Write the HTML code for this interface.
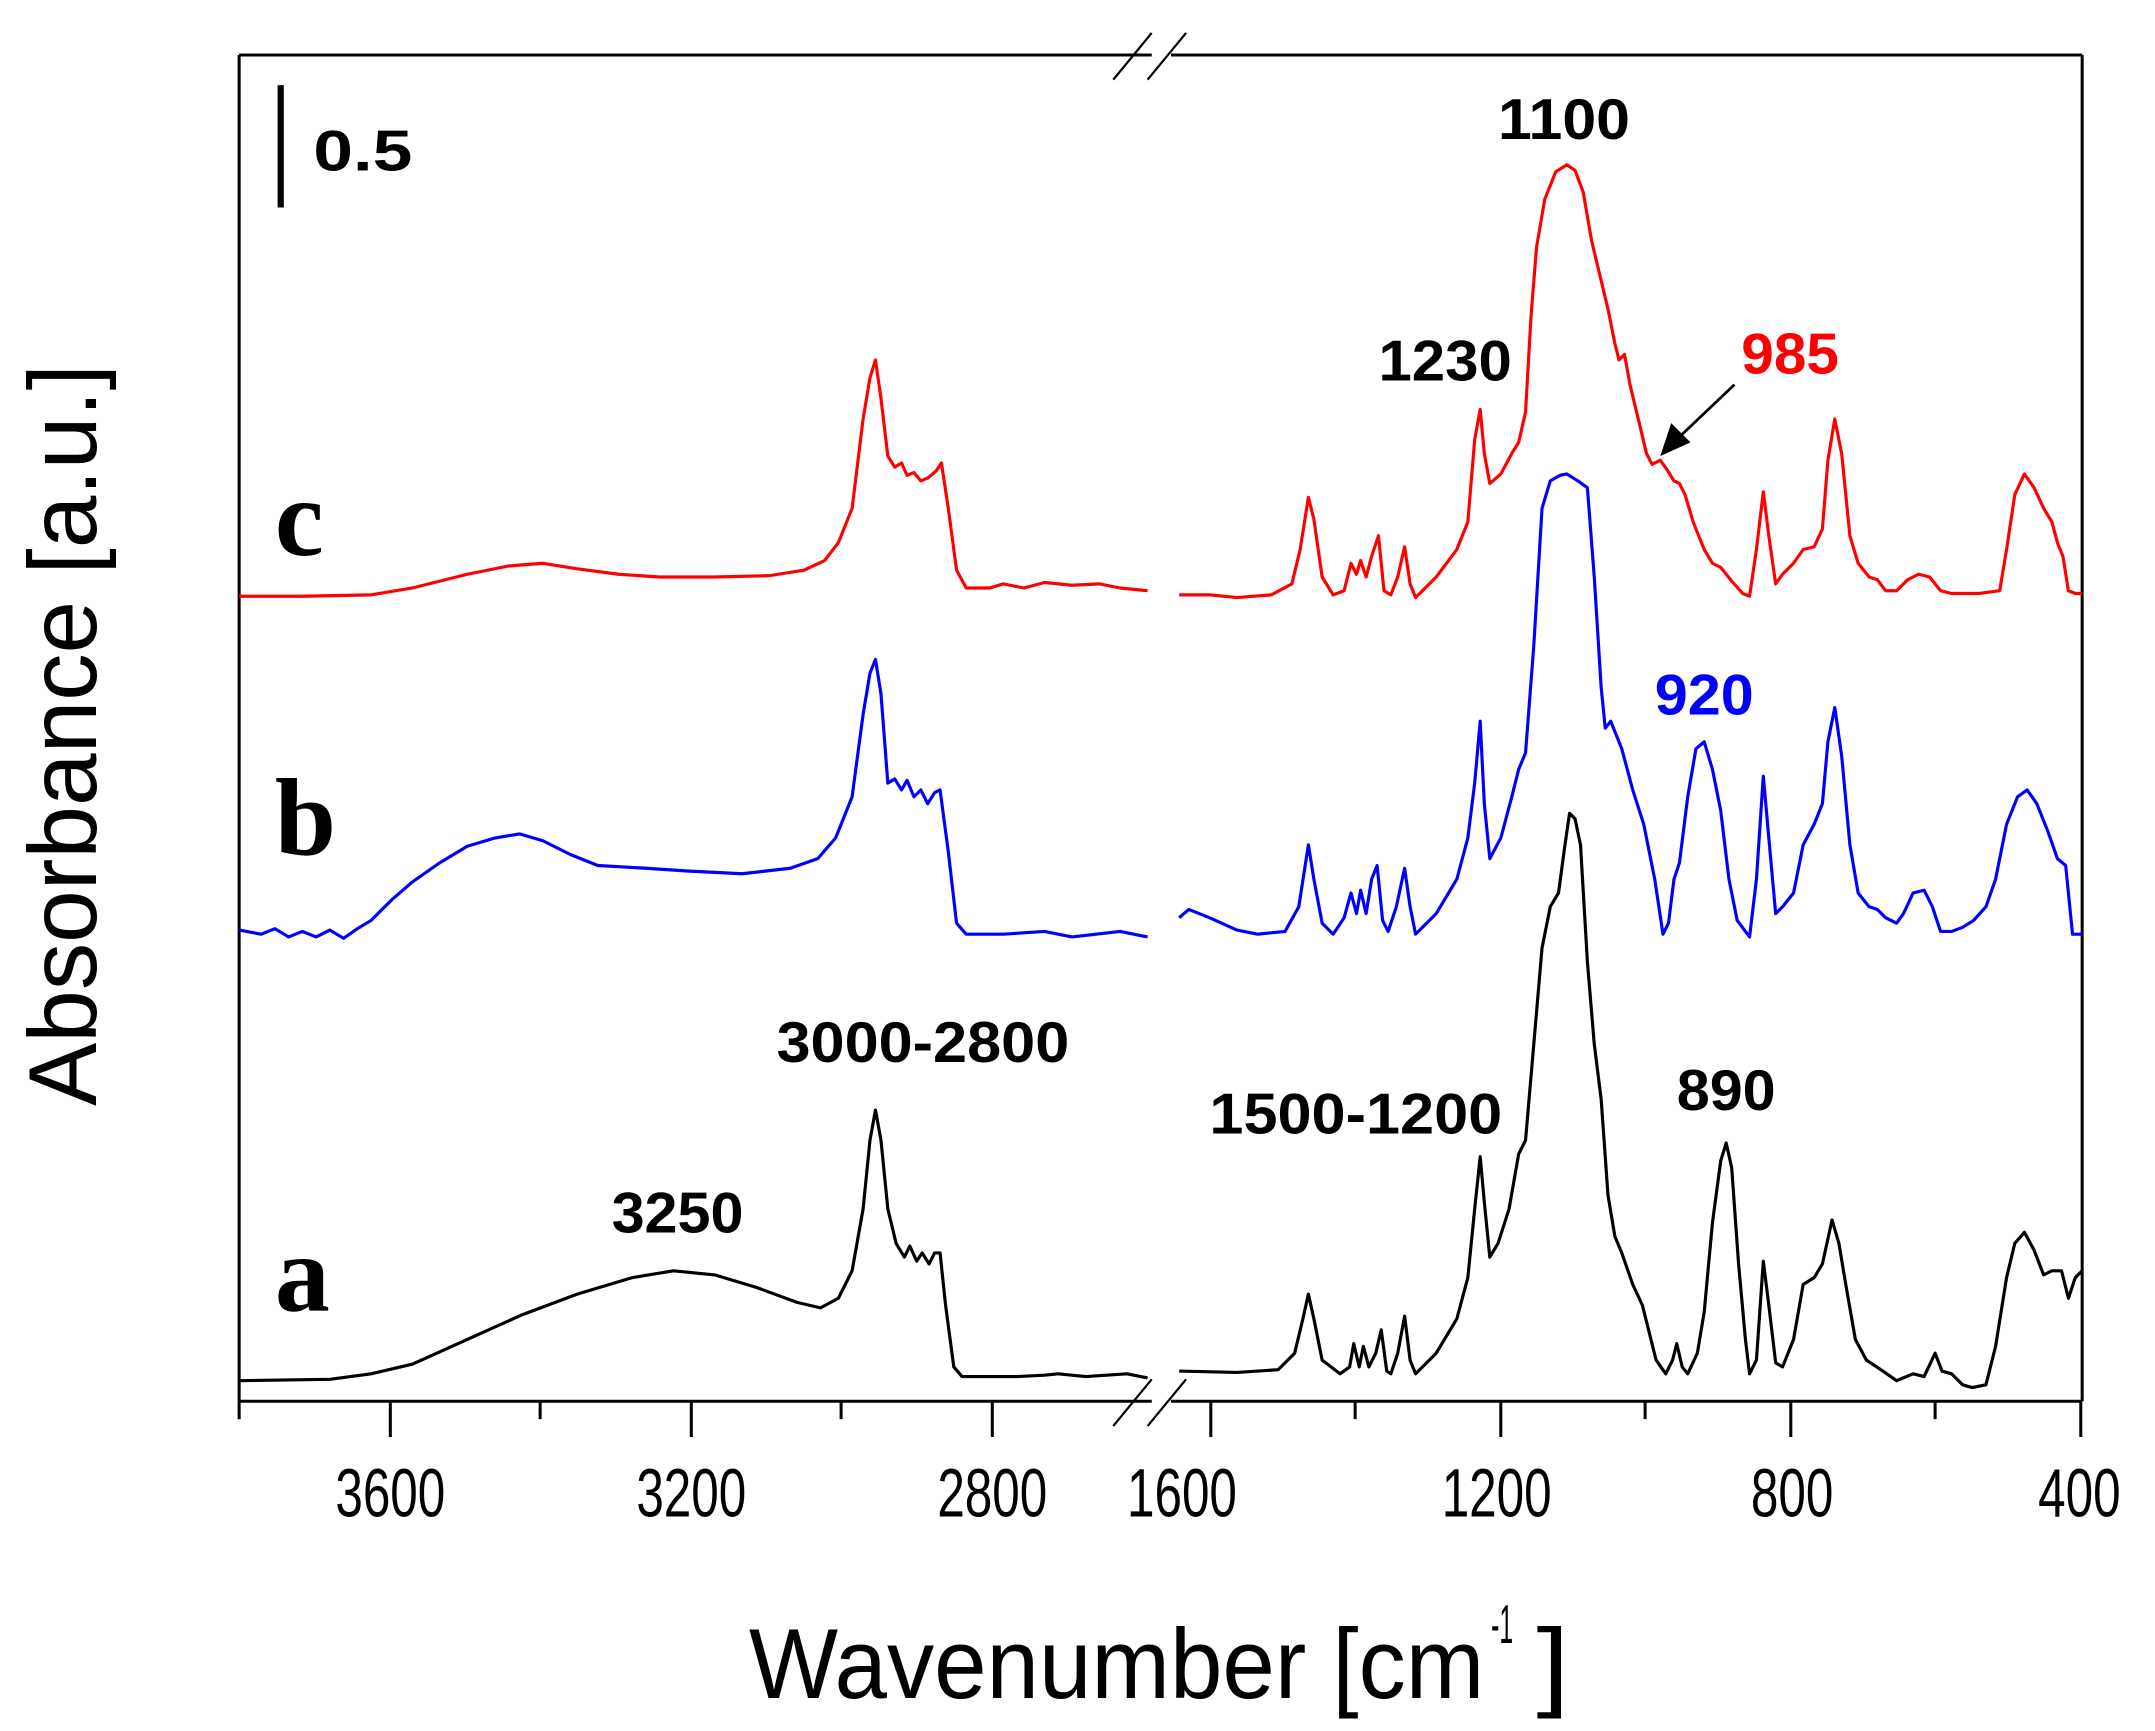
<!DOCTYPE html>
<html><head><meta charset="utf-8"><style>
html,body{margin:0;padding:0;background:#fff;}
svg{display:block;}
</style></head><body>
<svg width="2155" height="1731" viewBox="0 0 1568 1260" preserveAspectRatio="none" xmlns="http://www.w3.org/2000/svg" font-family="Liberation Sans, sans-serif">
<rect width="1568" height="1260" fill="#fff"/>
<g stroke="#000" stroke-width="2.2" fill="none">
<line x1="174" y1="40" x2="174" y2="1020"/>
<line x1="1515" y1="40" x2="1515" y2="1020"/>
<line x1="174" y1="40" x2="838" y2="40"/>
<line x1="852" y1="40" x2="1515" y2="40"/>
<line x1="174" y1="1020" x2="838" y2="1020"/>
<line x1="852" y1="1020" x2="1515" y2="1020"/>
<line x1="810" y1="58" x2="838" y2="24" stroke-width="1.6"/>
<line x1="835" y1="58" x2="863" y2="24" stroke-width="1.6"/>
<line x1="810" y1="1038" x2="838" y2="1004" stroke-width="1.6"/>
<line x1="835" y1="1038" x2="863" y2="1004" stroke-width="1.6"/>
<line x1="284" y1="1020" x2="284" y2="1046"/>
<line x1="503" y1="1020" x2="503" y2="1046"/>
<line x1="722" y1="1020" x2="722" y2="1046"/>
<line x1="393" y1="1020" x2="393" y2="1033"/>
<line x1="612" y1="1020" x2="612" y2="1033"/>
<line x1="174" y1="1020" x2="174" y2="1033"/>
<line x1="881" y1="1020" x2="881" y2="1046"/>
<line x1="1092" y1="1020" x2="1092" y2="1046"/>
<line x1="1303" y1="1020" x2="1303" y2="1046"/>
<line x1="1514" y1="1020" x2="1514" y2="1046"/>
<line x1="986" y1="1020" x2="986" y2="1033"/>
<line x1="1197" y1="1020" x2="1197" y2="1033"/>
<line x1="1408" y1="1020" x2="1408" y2="1033"/>
</g>
<g font-size="50" fill="#000" lengthAdjust="spacingAndGlyphs">
<text x="244" y="1104" textLength="80" lengthAdjust="spacingAndGlyphs">3600</text>
<text x="463" y="1104" textLength="80" lengthAdjust="spacingAndGlyphs">3200</text>
<text x="682" y="1104" textLength="80" lengthAdjust="spacingAndGlyphs">2800</text>
<text x="820" y="1104" textLength="80" lengthAdjust="spacingAndGlyphs">1600</text>
<text x="1049" y="1104" textLength="80" lengthAdjust="spacingAndGlyphs">1200</text>
<text x="1274" y="1104" textLength="60" lengthAdjust="spacingAndGlyphs">800</text>
<text x="1483" y="1104" textLength="60" lengthAdjust="spacingAndGlyphs">400</text>
</g>
<text x="545" y="1236" font-size="72" textLength="535" lengthAdjust="spacingAndGlyphs">Wavenumber [cm</text>
<text x="1085" y="1196" font-size="40" textLength="16" lengthAdjust="spacingAndGlyphs">-1</text>
<text x="1118" y="1236" font-size="72" textLength="24" lengthAdjust="spacingAndGlyphs">]</text>
<text transform="translate(70,805) rotate(-90)" font-size="70" textLength="540" lengthAdjust="spacingAndGlyphs">Absorbance [a.u.]</text>
<rect x="202" y="62" width="4.5" height="89" fill="#000"/>
<text x="228" y="124" font-size="42" font-weight="bold" textLength="72" lengthAdjust="spacingAndGlyphs">0.5</text>
<g font-family="Liberation Serif, serif" font-weight="bold" font-size="80">
<text x="200" y="404">c</text>
<text x="200" y="622">b</text>
<text x="200" y="954">a</text>
</g>
<g font-size="42" font-weight="bold" lengthAdjust="spacingAndGlyphs">
<text x="445" y="897" textLength="96" lengthAdjust="spacingAndGlyphs">3250</text>
<text x="565" y="773" textLength="213" lengthAdjust="spacingAndGlyphs">3000-2800</text>
<text x="880" y="825" textLength="213" lengthAdjust="spacingAndGlyphs">1500-1200</text>
<text x="1220" y="808" textLength="72" lengthAdjust="spacingAndGlyphs">890</text>
<text x="1090" y="101" textLength="96" lengthAdjust="spacingAndGlyphs">1100</text>
<text x="1003" y="277" textLength="97" lengthAdjust="spacingAndGlyphs">1230</text>
<text x="1267" y="272" fill="#f00" textLength="71" lengthAdjust="spacingAndGlyphs">985</text>
<text x="1204" y="520" fill="#00f" textLength="72" lengthAdjust="spacingAndGlyphs">920</text>
</g>
<line x1="1262" y1="280" x2="1222" y2="318" stroke="#000" stroke-width="2"/>
<polygon points="1208,332 1216,308 1230,322" fill="#000"/>
<g fill="none" stroke-width="2.3" stroke-linejoin="round">
<polyline stroke="#000" points="174,1005 240,1004 270,1000 300,993 340,975 380,957 420,942 460,930 490,925 520,928 550,937 580,948 597,952 610,945 620,925 628,880 633,830 637,808 641,830 646,880 652,905 658,915 662,907 667,918 671,912 676,920 680,912 684,912 688,950 694,995 700,1002 740,1002 760,1001 770,1000 790,1002 820,1000 835,1003"/>
<polyline stroke="#000" points="858,998 900,999 930,997 942,985 948,960 952,942 956,960 962,990 975,1000 982,995 985,978 989,995 992,980 996,995 1001,985 1005,968 1009,998 1012,1000 1017,985 1022,958 1026,990 1030,1000 1045,985 1060,960 1068,930 1073,880 1077,842 1080,875 1084,915 1090,905 1098,880 1105,840 1110,830 1116,760 1122,690 1128,660 1134,650 1138,620 1142,592 1146,596 1150,615 1155,700 1160,760 1165,800 1170,870 1175,900 1180,912 1188,935 1195,950 1205,990 1212,1000 1217,990 1220,978 1224,995 1228,1000 1235,985 1240,955 1246,890 1252,845 1256,832 1260,850 1265,920 1270,975 1273,1000 1278,990 1283,918 1287,950 1292,992 1297,995 1305,975 1312,935 1320,930 1326,920 1333,888 1338,905 1343,935 1350,975 1358,990 1370,998 1380,1005 1392,1000 1400,1002 1408,985 1413,998 1420,1000 1428,1008 1435,1010 1445,1008 1452,980 1460,930 1466,905 1473,897 1480,910 1487,928 1493,925 1500,925 1505,945 1510,930 1515,925"/>
<polyline stroke="#00f" points="174,677 190,680 200,676 210,682 220,678 230,682 240,677 250,683 260,676 270,670 285,655 300,642 320,628 340,616 360,610 378,607 395,612 415,622 435,630 470,632 500,634 540,636 575,632 595,625 608,610 620,580 628,520 633,490 637,480 641,505 646,570 651,567 656,575 660,568 665,580 670,575 675,585 680,577 684,575 690,620 696,672 703,680 730,680 760,678 780,682 815,678 835,682"/>
<polyline stroke="#00f" points="858,668 865,662 880,668 900,677 915,680 935,678 945,660 952,615 956,640 962,672 970,680 978,668 983,650 987,665 990,648 994,665 998,640 1002,630 1006,670 1010,678 1016,660 1022,632 1026,660 1030,680 1045,665 1060,640 1068,610 1073,570 1077,525 1080,585 1084,625 1092,610 1100,580 1105,560 1110,548 1116,470 1122,370 1128,350 1135,346 1140,345 1148,350 1155,355 1160,420 1165,500 1168,530 1172,525 1180,545 1188,575 1196,600 1204,640 1210,680 1214,672 1218,640 1222,628 1228,580 1234,545 1240,540 1246,560 1252,590 1258,640 1264,670 1270,678 1273,682 1278,640 1283,565 1287,610 1292,665 1297,660 1305,650 1312,615 1320,600 1326,585 1330,540 1335,515 1340,550 1346,615 1352,650 1360,660 1366,662 1372,668 1380,672 1385,665 1392,650 1400,648 1406,660 1412,678 1420,678 1428,675 1436,670 1445,660 1452,640 1460,600 1468,580 1475,575 1482,585 1490,605 1497,625 1503,630 1508,680 1515,680"/>
<polyline stroke="#f00" points="174,434 220,434 270,433 300,428 340,418 370,412 395,410 420,414 450,418 480,420 520,420 560,419 585,415 600,408 610,395 620,370 628,305 633,275 637,262 641,290 646,332 651,340 656,337 660,346 665,344 670,350 675,348 681,343 685,337 690,370 696,415 703,428 720,428 730,425 745,428 760,424 780,426 800,425 815,428 835,430"/>
<polyline stroke="#f00" points="858,433 880,433 900,435 925,433 940,425 946,400 952,362 956,378 962,420 970,433 978,430 983,410 987,418 990,408 994,420 998,405 1003,390 1007,430 1012,433 1017,420 1022,398 1026,425 1030,435 1045,420 1060,400 1068,380 1073,320 1077,298 1080,330 1084,352 1092,345 1100,330 1105,322 1110,300 1114,230 1118,180 1124,145 1132,125 1140,120 1146,124 1152,140 1158,175 1164,200 1170,225 1175,250 1178,262 1182,258 1186,280 1192,305 1198,330 1202,338 1208,335 1213,342 1218,350 1222,352 1226,360 1232,380 1240,400 1246,410 1252,413 1260,423 1268,432 1273,434 1278,400 1283,358 1287,390 1292,425 1297,418 1305,410 1312,400 1320,398 1326,385 1330,335 1335,305 1340,330 1346,390 1352,410 1360,420 1366,422 1372,430 1380,430 1388,422 1396,418 1404,420 1412,430 1420,432 1440,432 1455,430 1460,400 1466,360 1473,345 1480,355 1487,370 1493,380 1497,395 1501,405 1505,430 1510,432 1515,432"/>
</g>
</svg>
</body></html>
